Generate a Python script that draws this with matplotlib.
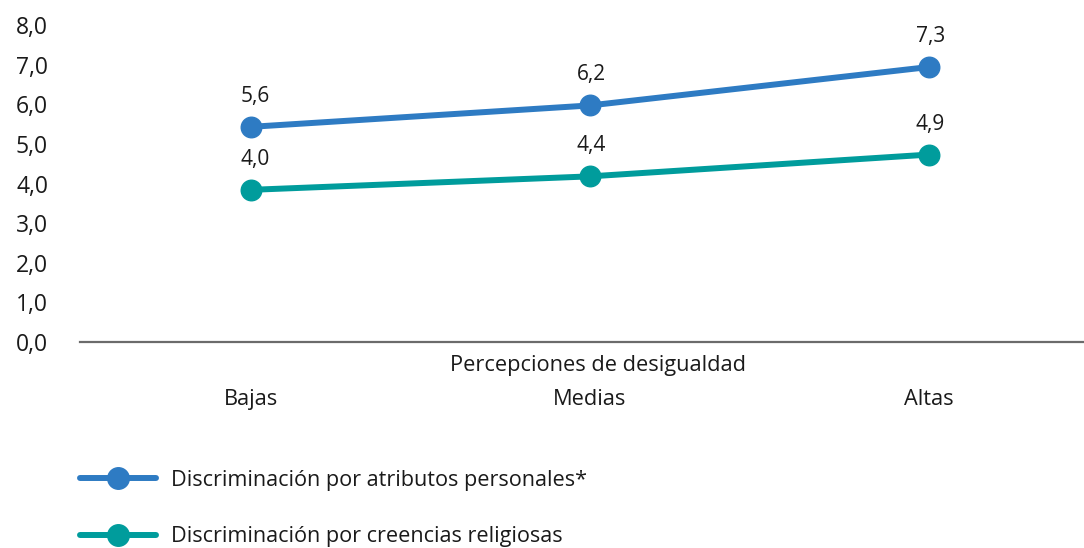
import matplotlib
matplotlib.use("Agg")
import matplotlib.pyplot as plt
from matplotlib.lines import Line2D
import matplotlib.transforms as mtransforms

plt.rcParams['font.family'] = ['Open Sans', 'DejaVu Sans']

categorias = ["Bajas", "Medias", "Altas"]
# marker positions
atributos_pos = [5.43, 5.97, 6.94]
creencias_pos = [3.84, 4.18, 4.73]
# value labels printed on the chart
atributos_lbl = ["5,6", "6,2", "7,3"]
creencias_lbl = ["4,0", "4,4", "4,9"]
yticks = [0, 1, 2, 3, 4, 5, 6, 7, 8]
ytick_lbl = ["0,0", "1,0", "2,0", "3,0", "4,0", "5,0", "6,0", "7,0", "8,0"]
serie1 = "Discriminación por atributos personales*"
serie2 = "Discriminación por creencias religiosas"
xtitulo = "Percepciones de desigualdad"

c_blue = "#2e7bc3"
c_teal = "#009c9c"
txt = "#1a1a1a"

W, H = 1084, 548
fig = plt.figure(figsize=(W/100, H/100), dpi=100)
ax = fig.add_axes([80/W, 206/H, 1004/W, 317/H])

x = list(range(len(categorias)))
for vals, lbls, col in [(atributos_pos, atributos_lbl, c_blue), (creencias_pos, creencias_lbl, c_teal)]:
    ax.plot(x, vals, color=col, lw=4.3, marker='o', ms=14.8, solid_capstyle='round', zorder=3)
    for xi, v, l in zip(x, vals, lbls):
        ax.annotate(l, (xi, v), xytext=(3 if xi == 0 else 1, 22), textcoords='offset points',
                    ha='center', va='center', fontsize=15, color=txt)

ax.set_xlim(-0.504, 2.457)
ax.set_ylim(0, 8)
ax.set_yticks(yticks)
ax.set_yticklabels(ytick_lbl, fontsize=16.5, color=txt)
ax.set_xticks(x)
ax.set_xticklabels(categorias, fontsize=15.7, color=txt)
ax.tick_params(axis='y', length=0, pad=23)
ax.tick_params(axis='x', length=0, pad=34)
for s in ['top', 'right', 'left']:
    ax.spines[s].set_visible(False)
ax.spines['bottom'].set_color('#6b6b6b')
ax.spines['bottom'].set_linewidth(1.6)

trans = mtransforms.blended_transform_factory(ax.transAxes, ax.transAxes)
ax.text((598-80)/1004, -24/317, xtitulo, transform=trans, ha='center', va='center', fontsize=15.7, color=txt)

handles = [Line2D([], [], color=c_blue, lw=4.3, marker='o', ms=15.5, solid_capstyle='round'),
           Line2D([], [], color=c_teal, lw=4.3, marker='o', ms=15.5, solid_capstyle='round')]
fig.legend(handles, [serie1, serie2], loc='upper left', bbox_to_anchor=(80/W, 1 - 470/H),
           frameon=False, fontsize=15.6, handlelength=3.5, labelspacing=1.62, handletextpad=0.7,
           labelcolor=txt, borderaxespad=0, borderpad=0)

fig.savefig("out.png", dpi=100)
